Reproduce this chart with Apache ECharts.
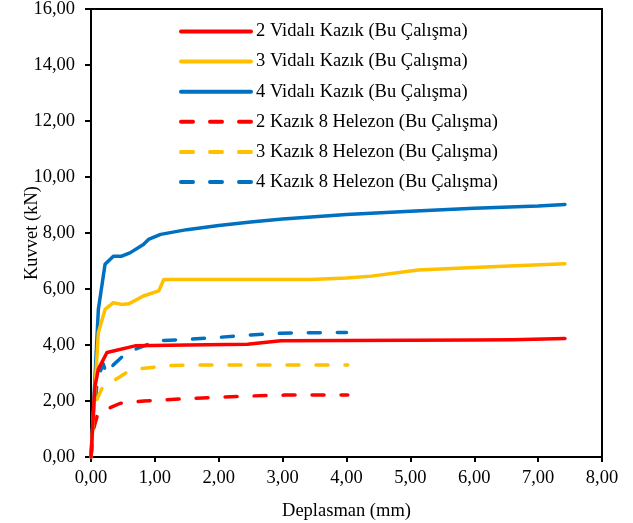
<!DOCTYPE html>
<html>
<head>
<meta charset="utf-8">
<script src="https://cdn.jsdelivr.net/npm/echarts@6/dist/echarts.min.js"></script>
<style>html,body{margin:0;padding:0;background:#fff;}#c{width:633px;height:523px;}</style>
</head>
<body>
<div id="c"></div>
<script>
// Series names (legend order)
const seriesNames = [
  '2 Vidalı Kazık (Bu Çalışma)',
  '3 Vidalı Kazık (Bu Çalışma)',
  '4 Vidalı Kazık (Bu Çalışma)',
  '2 Kazık 8 Helezon (Bu Çalışma)',
  '3 Kazık 8 Helezon (Bu Çalışma)',
  '4 Kazık 8 Helezon (Bu Çalışma)'
];

// 2 Vidalı Kazık
const v2X = [0, 0.06, 0.115, 0.25, 0.69, 1.5, 2.45, 2.97, 4.0, 5.0, 6.0, 6.6, 7.42];
const v2Y = [0, 2.5, 3.14, 3.73, 3.97, 4.0, 4.03, 4.15, 4.16, 4.17, 4.18, 4.19, 4.23];

// 3 Vidalı Kazık
const v3X = [0, 0.115, 0.22, 0.35, 0.48, 0.59, 0.82, 1.06, 1.14, 2.0, 3.0, 3.44, 4.0, 4.39, 5.12, 6.17, 7.42];
const v3Y = [0, 4.44, 5.27, 5.51, 5.45, 5.47, 5.75, 5.93, 6.34, 6.34, 6.34, 6.34, 6.39, 6.46, 6.68, 6.79, 6.9];

// 4 Vidalı Kazık
const v4X = [0, 0.06, 0.115, 0.22, 0.35, 0.48, 0.61, 0.82, 0.9, 1.09, 1.5, 2.0, 2.5, 3.0, 4.0, 5.0, 6.0, 7.0, 7.42];
const v4Y = [0, 2.7, 5.27, 6.88, 7.17, 7.17, 7.29, 7.59, 7.77, 7.95, 8.12, 8.27, 8.39, 8.5, 8.66, 8.78, 8.88, 8.96, 9.02];

// 2 Kazık 8 Helezon
const h2X = [0, 0.04, 0.11, 0.3, 0.46, 0.83, 1.62, 2.5, 3.02, 4.02];
const h2Y = [0, 1.0, 1.57, 1.76, 1.92, 2.0, 2.1, 2.18, 2.21, 2.21];

// 3 Kazık 8 Helezon
const h3X = [0, 0.08, 0.19, 0.35, 0.56, 0.8, 1.2, 1.6, 3.0, 4.02];
const h3Y = [0, 2.0, 2.54, 2.72, 3.02, 3.16, 3.26, 3.29, 3.29, 3.29];

// 4 Kazık 8 Helezon
const h4X = [0, 0.09, 0.14, 0.19, 0.245, 0.35, 0.56, 1.03, 1.5, 1.92, 2.5, 2.97, 3.5, 4.0];
const h4Y = [0, 2.54, 3.02, 3.33, 2.96, 3.29, 3.73, 4.15, 4.2, 4.26, 4.36, 4.42, 4.44, 4.45];

const colors = ['#FF0000', '#FFC000', '#0070C0', '#FF0000', '#FFC000', '#0070C0'];
const xs = [v2X, v3X, v4X, h2X, h3X, h4X];
const ys = [v2Y, v3Y, v4Y, h2Y, h3Y, h4Y];

const FONT = '"Liberation Serif", "Times New Roman", serif';
const fmt = v => v.toFixed(2).replace('.', ',');

const series = seriesNames.map((name, i) => ({
  name: name,
  type: 'line',
  symbol: 'none',
  smooth: false,
  z: 10 - i,
  data: xs[i].map((x, k) => [x, ys[i][k]]),
  lineStyle: {
    color: colors[i],
    width: 3.5,
    type: i >= 3 ? [12, 17] : 'solid',
    cap: 'round',
    join: 'round'
  },
  itemStyle: { color: colors[i] }
}));

const chart = echarts.init(document.getElementById('c'), null, { renderer: 'canvas' });
chart.setOption({
  animation: false,
  backgroundColor: '#fff',
  grid: { left: 91, right: 31, top: 9, bottom: 66, show: true, borderColor: '#000', borderWidth: 2, backgroundColor: 'transparent', containLabel: false, outerBoundsMode: 'none' },
  legend: {
    orient: 'vertical',
    left: 174,
    top: 17,
    itemWidth: 70,
    itemHeight: 14,
    itemGap: 11.1,
    itemStyle: { opacity: 0 },
    lineStyle: { width: 4, cap: 'round' },
    textStyle: { fontFamily: FONT, fontSize: 18.5, color: '#000' },
    data: seriesNames
  },
  xAxis: {
    type: 'value', min: 0, max: 8, interval: 1,
    name: 'Deplasman (mm)', nameLocation: 'middle', nameGap: 45,
    nameMoveOverlap: false,
    nameTextStyle: { fontFamily: FONT, fontSize: 18.5, color: '#000' },
    axisLine: { show: true, lineStyle: { color: '#000', width: 2 } },
    axisTick: { show: true, inside: false, length: 5, lineStyle: { color: '#000', width: 2 } },
    axisLabel: { formatter: fmt, fontFamily: FONT, fontSize: 18.5, color: '#000', margin: 12 },
    splitLine: { show: false }
  },
  yAxis: {
    type: 'value', min: 0, max: 16, interval: 2,
    name: 'Kuvvet (kN)', nameLocation: 'middle', nameGap: 49, nameRotate: 90,
    nameMoveOverlap: false,
    nameTextStyle: { fontFamily: FONT, fontSize: 18.5, color: '#000' },
    axisLine: { show: true, lineStyle: { color: '#000', width: 2 } },
    axisTick: { show: true, inside: false, length: 6, lineStyle: { color: '#000', width: 2 } },
    axisLabel: { formatter: fmt, fontFamily: FONT, fontSize: 18.5, color: '#000', margin: 16 },
    splitLine: { show: false }
  },
  series: series
});
</script>
</body>
</html>
